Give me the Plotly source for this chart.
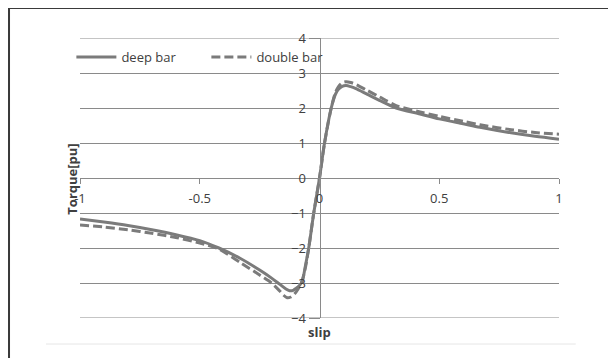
import plotly.graph_objects as go

# slip values and torque readings (pu)
slip_deep = [-1.0, -0.9, -0.8, -0.7, -0.6, -0.5, -0.42, -0.33, -0.25, -0.2, -0.167, -0.14, -0.125,
             -0.11, -0.097, -0.085, -0.072, -0.06, -0.045, -0.024, 0.0, 0.021, 0.049, 0.067, 0.08,
             0.095, 0.111, 0.13, 0.15, 0.2, 0.25, 0.32, 0.42, 0.5, 0.6, 0.67, 0.8, 0.9, 1.0]
torque_deep = [-1.17, -1.26, -1.36, -1.48, -1.62, -1.79, -2.00, -2.30, -2.63, -2.86, -3.03, -3.17, -3.22,
               -3.21, -3.15, -3.08, -2.95, -2.55, -2.00, -1.00, 0.0, 1.00, 2.00, 2.40, 2.54,
               2.62, 2.64, 2.61, 2.56, 2.39, 2.22, 2.00, 1.83, 1.69, 1.55, 1.45, 1.29, 1.19, 1.11]

slip_double = [-1.0, -0.9, -0.8, -0.7, -0.6, -0.5, -0.42, -0.33, -0.25, -0.2, -0.167, -0.15, -0.135,
               -0.12, -0.105, -0.09, -0.075, -0.06, -0.045, -0.024, 0.0, 0.021, 0.049, 0.067, 0.08,
               0.095, 0.11, 0.13, 0.15, 0.2, 0.25, 0.32, 0.42, 0.5, 0.6, 0.67, 0.8, 0.9, 1.0]
torque_double = [-1.34, -1.40, -1.48, -1.58, -1.70, -1.86, -2.03, -2.42, -2.77, -3.00, -3.22, -3.35, -3.42,
                 -3.40, -3.32, -3.18, -2.98, -2.60, -2.00, -1.00, 0.0, 1.00, 2.00, 2.45, 2.62,
                 2.72, 2.75, 2.73, 2.68, 2.50, 2.32, 2.07, 1.89, 1.76, 1.62, 1.52, 1.38, 1.30, 1.25]

x_ticks = [-1, -0.5, 0, 0.5, 1]
x_tick_text = ["-1", "-0.5", "0", "0.5", "1"]
y_ticks = [-4, -3, -2, -1, 0, 1, 2, 3, 4]

LINE = "#7b7b7b"
GRID = "#8a8a8a"
FONT = "Open Sans"

fig = go.Figure()
fig.add_trace(go.Scatter(x=slip_deep, y=torque_deep, mode="lines", name="deep bar",
                         line=dict(color=LINE, width=3, shape="spline", smoothing=0.8)))
fig.add_trace(go.Scatter(x=slip_double, y=torque_double, mode="lines", name="double bar",
                         line=dict(color=LINE, width=3, dash="9px,4px", shape="spline", smoothing=0.8)))

# outermost gridlines (Plotly drops gridlines lying on the plot edge)
for v in (min(y_ticks), max(y_ticks)):
    fig.add_shape(type="line", xref="paper", yref="y", x0=0, x1=1, y0=v, y1=v,
                  line=dict(color=GRID, width=1), layer="below")

fig.update_layout(
    width=608, height=350,
    margin=dict(l=72, r=57, t=30, b=40, autoexpand=False),
    paper_bgcolor="white", plot_bgcolor="white",
    font=dict(family=FONT, size=13, color="#404040"),
    showlegend=True,
    legend=dict(orientation="h", x=-0.018, y=0.932, xanchor="left", yanchor="middle",
                bgcolor="rgba(0,0,0,0)", font=dict(family=FONT, size=13, color="#404040"),
                itemwidth=40, tracegroupgap=0, entrywidth=80, entrywidthmode="pixels"),
    xaxis=dict(range=[-1, 1], tickvals=x_ticks, ticktext=x_tick_text,
               anchor="free", position=0.5, showline=True, linecolor=GRID, linewidth=1,
               ticks="outside", ticklen=5, tickcolor=GRID, showgrid=False, zeroline=False,
               ticklabelstandoff=3,
               tickfont=dict(family=FONT, size=13, color="#404040")),
    yaxis=dict(range=[-4, 4], tickvals=y_ticks,
               anchor="free", position=0.5, showline=True, linecolor=GRID, linewidth=1,
               ticks="outside", ticklen=11, tickcolor=GRID, showgrid=True, gridcolor=GRID,
               gridwidth=1, zeroline=False,
               tickfont=dict(family=FONT, size=13, color="#404040")),
    annotations=[
        dict(text="<b>Torque[pu]</b>", xref="paper", yref="paper", x=-0.017, y=0.497,
             textangle=-90, showarrow=False, xanchor="center", yanchor="middle",
             font=dict(family=FONT, size=13, color="#404040")),
        dict(text="<b>slip</b>", xref="paper", yref="paper", x=0.5, y=-0.05,
             showarrow=False, xanchor="center", yanchor="middle",
             font=dict(family=FONT, size=13, color="#404040")),
    ],
)
fig.add_shape(type="rect", xref="paper", yref="paper", x0=-0.1482, x1=1.1106, y0=-0.2, y1=1.1071,
              line=dict(color="#3a3a3a", width=2), fillcolor="rgba(0,0,0,0)", layer="below")
fig.add_shape(type="line", xref="paper", yref="paper", x0=-0.071, x1=1.035, y0=-0.0929, y1=-0.0929,
              line=dict(color="#e6e6e6", width=1))

fig.write_html("out.html")
